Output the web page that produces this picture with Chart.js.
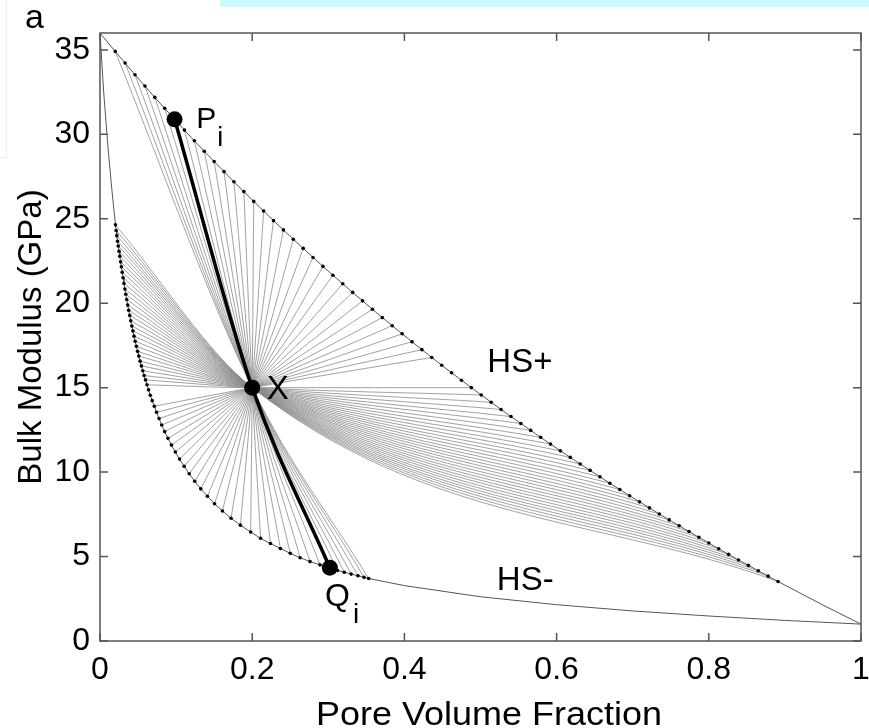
<!DOCTYPE html>
<html>
<head>
<meta charset="utf-8">
<title>Bulk modulus vs pore volume fraction</title>
<script src="https://cdn.jsdelivr.net/npm/chart.js@4.4.1/dist/chart.umd.min.js"></script>
<style>
  html, body { margin: 0; padding: 0; background: #fff; }
  #wrap { position: relative; width: 869px; height: 728px; }
  #strip { position: absolute; left: 220px; top: 0; width: 649px; height: 7px; background: #c8fcfc; }
  #edge { position: absolute; left: 0; top: 0; width: 6px; height: 157px; border-right: 1px solid #eeeeee; border-bottom: 1px solid #eeeeee; }
  canvas { position: absolute; left: 0; top: 0; }
</style>
</head>
<body>
<div id="wrap">
  <div id="strip"></div>
  <div id="edge"></div>
  <canvas id="chart" width="869" height="728"></canvas>
</div>
<script>
// dots on the upper bound (HS+), left to right
const plusX = [
  0.020, 0.033, 0.046, 0.059, 0.072, 0.085, 0.098, 0.111, 0.124, 0.137,
  0.150, 0.163, 0.176, 0.189, 0.202, 0.215, 0.228, 0.241, 0.254, 0.267,
  0.280, 0.293, 0.306, 0.319, 0.332, 0.345, 0.358, 0.371, 0.384, 0.397,
  0.410, 0.423, 0.436, 0.449, 0.462, 0.475, 0.488, 0.501, 0.514, 0.527,
  0.540, 0.553, 0.566, 0.579, 0.592, 0.605, 0.618, 0.631, 0.644, 0.657,
  0.670, 0.683, 0.696, 0.709, 0.722, 0.735, 0.748, 0.761, 0.774, 0.787,
  0.800, 0.813, 0.826, 0.839, 0.852, 0.865, 0.878, 0.891
];
const plusY = [
  34.91, 34.22, 33.53, 32.86, 32.19, 31.54, 30.89, 30.25, 29.62, 29.00,
  28.39, 27.79, 27.19, 26.61, 26.03, 25.46, 24.89, 24.34, 23.79, 23.25,
  22.71, 22.18, 21.66, 21.15, 20.64, 20.14, 19.64, 19.15, 18.67, 18.19,
  17.72, 17.25, 16.79, 16.33, 15.88, 15.44, 15.00, 14.57, 14.14, 13.71,
  13.29, 12.88, 12.47, 12.06, 11.66, 11.26, 10.87, 10.48, 10.10, 9.72,
  9.34, 8.97, 8.60, 8.24, 7.88, 7.52, 7.17, 6.82, 6.48, 6.14,
  5.80, 5.46, 5.13, 4.80, 4.48, 4.16, 3.84, 3.52
];

// matching dots on the lower bound (HS-), same order as plusX
const minusX = [
  0.353, 0.347, 0.339, 0.330, 0.321, 0.312, 0.302,
  0.289, 0.276, 0.263, 0.250, 0.237, 0.224, 0.211, 0.198,
  0.1845, 0.1722, 0.1609, 0.1505, 0.1411, 0.1324, 0.1245, 0.1172, 0.1106, 0.1045,
  0.0990, 0.0939, 0.0893, 0.0850, 0.0811, 0.0776, 0.0743, 0.0713, 0.0686, 0.0661,
  0.0638, 0.0617,
  0.0598, 0.0580, 0.0562, 0.0544, 0.0527, 0.0510, 0.0494, 0.0478, 0.0462, 0.0447,
  0.0432, 0.0418, 0.0404, 0.0390, 0.0377, 0.0364, 0.0351, 0.0339, 0.0327, 0.0315,
  0.0303, 0.0292, 0.0281, 0.0271, 0.0260, 0.0250, 0.0240, 0.0231, 0.0221, 0.0212,
  0.0203
];
const minusY = [
  3.70, 3.77, 3.86, 3.96, 4.07, 4.18, 4.34,
  4.51, 4.70, 4.93, 5.19, 5.48, 5.77, 6.08, 6.45,
  6.86, 7.27, 7.70, 8.13, 8.57, 9.01, 9.46, 9.90, 10.34, 10.77,
  11.19, 11.60, 12.00, 12.40, 12.79, 13.17, 13.54, 13.90, 14.23, 14.55,
  14.87, 15.17,
  15.46, 15.72, 16.00, 16.29, 16.57, 16.87, 17.15, 17.45, 17.75, 18.05,
  18.36, 18.65, 18.96, 19.28, 19.58, 19.89, 20.22, 20.53, 20.84, 21.17,
  21.51, 21.83, 22.16, 22.45, 22.78, 23.08, 23.39, 23.67, 24.00, 24.31,
  24.64
];
// pairs whose mixing curve is not drawn in the figure (white wedge at X)
const noCurve = [33, 34, 35];

// parts of the two bounds outside the dotted stretch
const plusEndX = [0, 0.95, 1.0];
const plusEndY = [36, 2.13, 1.0];
const minusEndX = [0, 0.005, 0.01, 0.015, 0.4, 0.5, 0.6, 0.7, 0.8, 0.9, 1.0];
const minusEndY = [36, 32.4, 29.5, 27.0, 3.28, 2.62, 2.15, 1.78, 1.48, 1.22, 1.0];

// common point X and the highlighted pair Pi - Qi
const crossX = 0.2;
const crossY = 15;
const pick = 6;

const xTicks = [0, 0.2, 0.4, 0.6, 0.8, 1];
const yTicks = [0, 5, 10, 15, 20, 25, 30, 35];

const FONT = "'Liberation Sans', Arial, Helvetica, sans-serif";

function pts(xs, ys) {
  return xs.map((x, i) => ({ x: x, y: ys[i] }));
}

function bound(xs, ys, ex, ey) {
  return pts(xs, ys).concat(pts(ex, ey)).sort((a, b) => a.x - b.x);
}

function pair(k) {
  return [
    { x: plusX[k], y: plusY[k] },
    { x: crossX, y: crossY },
    { x: minusX[k], y: minusY[k] }
  ];
}

const datasets = [];

// big markers on top
datasets.push({
  data: pair(pick),
  showLine: false,
  pointRadius: 8,
  pointBackgroundColor: '#000',
  pointBorderWidth: 0,
  order: 0
});
// thick mixing curve Pi - X - Qi
datasets.push({
  data: pair(pick),
  showLine: true,
  borderColor: '#000',
  borderWidth: 3.5,
  pointRadius: 0,
  cubicInterpolationMode: 'monotone',
  tension: 0.4,
  order: 1
});
// dots on both bounds
datasets.push({
  data: pts(plusX, plusY),
  showLine: false,
  pointRadius: 1.8,
  pointBackgroundColor: '#000',
  pointBorderWidth: 0,
  order: 2
});
datasets.push({
  data: pts(minusX, minusY),
  showLine: false,
  pointRadius: 1.8,
  pointBackgroundColor: '#000',
  pointBorderWidth: 0,
  order: 2
});
// the bound curves
datasets.push({
  data: bound(plusX, plusY, plusEndX, plusEndY),
  showLine: true,
  borderColor: '#555',
  borderWidth: 1,
  pointRadius: 0,
  tension: 0,
  order: 3
});
datasets.push({
  data: bound(minusX, minusY, minusEndX, minusEndY),
  showLine: true,
  borderColor: '#555',
  borderWidth: 1,
  pointRadius: 0,
  tension: 0,
  order: 3
});
// fan of thin curves through X
for (let k = 0; k < plusX.length; k++) {
  if (k === pick || noCurve.includes(k)) continue;
  datasets.push({
    data: pair(k),
    showLine: true,
    borderColor: '#8a8a8a',
    borderWidth: 0.8,
    pointRadius: 0,
    cubicInterpolationMode: 'monotone',
    tension: 0.4,
    order: 10
  });
}

// frame, inward ticks, axis titles and text labels
const framePlugin = {
  id: 'frame',
  afterDatasetsDraw(chart) {
    const { ctx, chartArea: a, scales } = chart;
    const sx = scales.x, sy = scales.y;
    ctx.save();
    ctx.strokeStyle = '#555';
    ctx.lineWidth = 1.5;
    ctx.strokeRect(a.left, a.top, a.right - a.left, a.bottom - a.top);
    ctx.beginPath();
    xTicks.forEach(v => {
      const px = sx.getPixelForValue(v);
      ctx.moveTo(px, a.bottom); ctx.lineTo(px, a.bottom - 8);
      ctx.moveTo(px, a.top); ctx.lineTo(px, a.top + 8);
    });
    yTicks.forEach(v => {
      const py = sy.getPixelForValue(v);
      ctx.moveTo(a.left, py); ctx.lineTo(a.left + 8, py);
      ctx.moveTo(a.right, py); ctx.lineTo(a.right - 8, py);
    });
    ctx.stroke();

    ctx.fillStyle = '#000';
    ctx.textBaseline = 'alphabetic';
    ctx.textAlign = 'left';
    const put = (txt, x, y, size) => {
      ctx.font = size + 'px ' + FONT;
      ctx.fillText(txt, sx.getPixelForValue(x), sy.getPixelForValue(y));
    };
    put('P', 0.1265, 30.36, 30);
    put('i', 0.154, 29.31, 27);
    put('X', 0.219, 14.33, 33);
    put('HS+', 0.509, 15.93, 33);
    put('HS-', 0.5215, 3.02, 33);
    put('Q', 0.2956, 2.07, 32);
    put('i', 0.3325, 1.07, 28);

    ctx.font = '34px ' + FONT;
    ctx.fillText('a', 25, 28);

    // axis titles
    ctx.textAlign = 'center';
    ctx.font = '33px ' + FONT;
    ctx.save();
    ctx.translate(489, 725);
    ctx.scale(1.09, 1);
    ctx.fillText('Pore Volume Fraction', 0, 0);
    ctx.restore();
    ctx.save();
    ctx.translate(41, (a.top + a.bottom) / 2);
    ctx.rotate(-Math.PI / 2);
    ctx.fillText('Bulk Modulus (GPa)', 0, 0);
    ctx.restore();
    ctx.restore();
  }
};

new Chart(document.getElementById('chart'), {
  type: 'scatter',
  data: { datasets: datasets },
  options: {
    responsive: false,
    animation: false,
    events: [],
    layout: { padding: { top: 33, right: 2, left: 0, bottom: 0 } },
    plugins: { legend: { display: false }, tooltip: { enabled: false } },
    scales: {
      x: {
        type: 'linear',
        min: 0,
        max: 1,
        afterFit: s => { s.height = 87; s.paddingLeft = 0; s.paddingRight = 0; },
        afterBuildTicks: s => { s.ticks = xTicks.map(v => ({ value: v })); },
        grid: { display: false, drawTicks: false },
        border: { display: false },
        ticks: { color: '#000', font: { size: 32, family: FONT }, padding: 10, maxRotation: 0, autoSkip: false, callback: v => String(v) }
      },
      y: {
        type: 'linear',
        min: 0,
        max: 36,
        afterFit: s => { s.width = 100; s.paddingTop = 0; s.paddingBottom = 0; },
        afterBuildTicks: s => { s.ticks = yTicks.map(v => ({ value: v })); },
        grid: { display: false, drawTicks: false },
        border: { display: false },
        ticks: { color: '#000', font: { size: 32, family: FONT }, padding: 10, autoSkip: false, callback: v => String(v) }
      }
    }
  },
  plugins: [framePlugin]
});
</script>
</body>
</html>
